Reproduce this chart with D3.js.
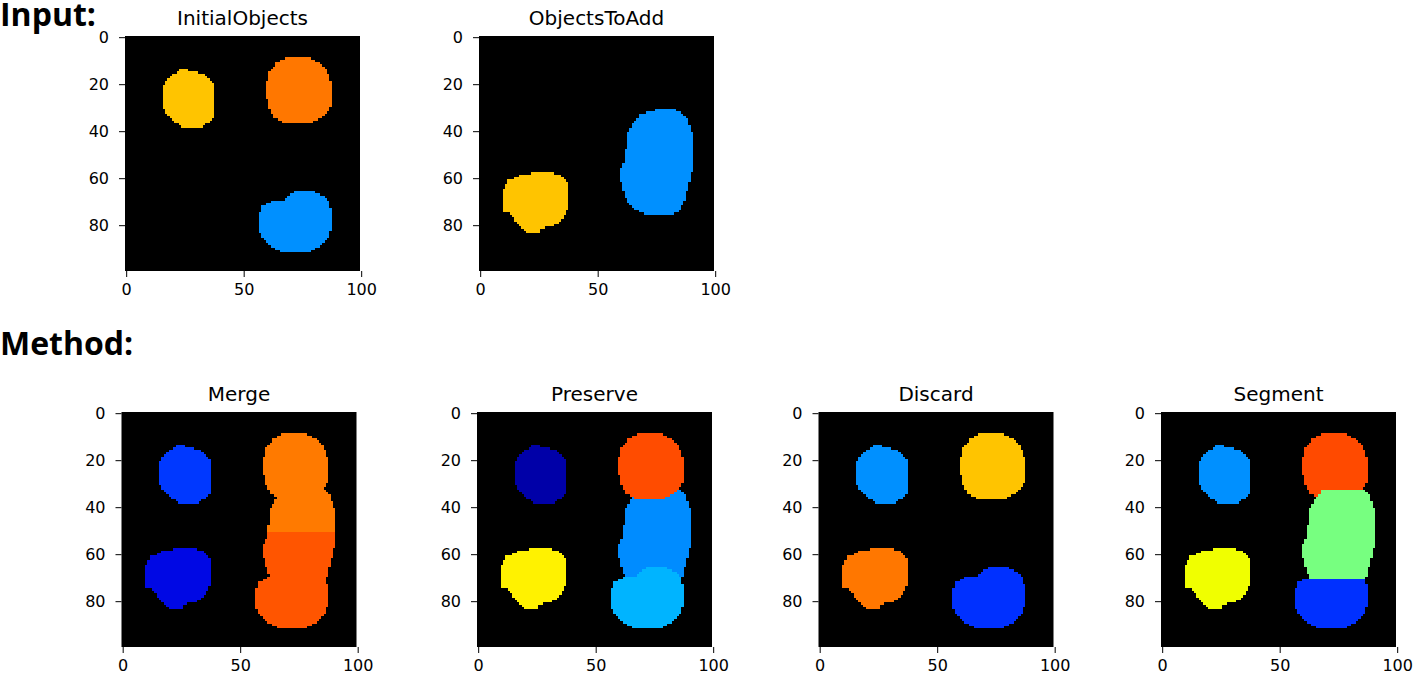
<!DOCTYPE html>
<html>
<head>
  <meta charset="utf-8">
  <title>Label images</title>
  <script src="https://cdn.jsdelivr.net/npm/d3@7"></script>
  <style>
    body { margin: 0; background: #fff; }
    svg { display: block; }
    .tick text { font-family: "DejaVu Sans", sans-serif; font-size: 16px; fill: #000; }
    .tick line { stroke: #000; }
    .title { font-family: "DejaVu Sans", sans-serif; font-size: 20px; }
    .section { font-family: "Open Sans", sans-serif; font-weight: 700; font-size: 32px; }
  </style>
</head>
<body>
<svg width="1413" height="676"></svg>
<script>

// tick labels of every panel (image is 100 x 100 px)
const xTicks = [0, 50, 100];
const yTicks = [0, 20, 40, 60, 80];

const sectionLabels = ["Input:", "Method:"];
const panelTitles = ["InitialObjects", "ObjectsToAdd", "Merge", "Preserve", "Discard", "Segment"];

// outlines of the objects, [column, row]
const blobA = [[23,13.5],[26,13.5],[28,14.5],[31,15],[34,16],[36.5,18.5],[38,21.5],[38,32],[36.5,35.5],
  [33,37.5],[31,38.6],[24.5,38.6],[21,36],[18.5,34],[17,32],[15.5,29],[15.2,22],[17,18.5],[20,16]];
const blobB = [[68,9],[79,9],[83,11.5],[86,15],[87.5,20],[87.5,29],[86,32],[82,35],[78,36.6],[67,36.6],
  [63,34],[61,30],[60,26],[59.5,20],[61,15],[64,11]];
const blobC = [[72,65.5],[80,65.5],[84,67.5],[86.5,70.5],[87.5,74],[87.5,80],[86.5,85],[84,88],[81,90],
  [77,91.8],[67,91.8],[62,89.5],[58.5,86],[56.2,82],[56.2,76],[58,72],[62,69.8],[67,69.5],[70,67]];
const blobD = [[23,57.3],[28.5,57.3],[34,58.5],[37.3,62],[37.3,73],[35.5,77],[34,79],[30,80.5],[26,81.5],
  [25,83.3],[20,83.3],[18,81],[15,78.5],[13,75],[10,74],[9.3,70],[9.5,65],[12,61],[16.5,59],[20,58.5]];
const blobE = [[72,31.5],[76,30.7],[83,30.7],[86,32],[88.5,35],[89.5,39],[90.7,43],[90.7,54],[89.5,60],
  [88,66],[86.5,71],[84.5,74],[82,75.5],[70,75.5],[66,73],[62.5,70],[61,65],[60.5,62],[59.4,60],[59.4,56],
  [61,54],[62,48],[62.5,42],[64.5,37],[68,33]];

// objects per panel, painted in order (later ones cover earlier ones)
const initialLayers = [
  { blob: blobA, color: "#ffc400" },
  { blob: blobB, color: "#ff7700" },
  { blob: blobC, color: "#0090ff" }
];
const addLayers = [
  { blob: blobD, color: "#ffc400" },
  { blob: blobE, color: "#0090ff" }
];
const mergeLayers = [
  { blob: blobA, color: "#0038ff" },
  { blob: blobD, color: "#0008e4" },
  { blob: blobB, color: "#ff7a00", rowMax: 50 },
  { blob: blobE, color: "#ff7a00", rowMax: 50 },
  { blob: blobC, color: "#ff7a00", rowMax: 50 },
  { blob: blobB, color: "#ff5500", rowMin: 51 },
  { blob: blobE, color: "#ff5500", rowMin: 51 },
  { blob: blobC, color: "#ff5500", rowMin: 51 }
];
const preserveLayers = [
  { blob: blobA, color: "#0000a8" },
  { blob: blobD, color: "#fff200" },
  { blob: blobE, color: "#008cff" },
  { blob: blobB, color: "#ff4c00" },
  { blob: blobC, color: "#00b4ff" }
];
const discardLayers = [
  { blob: blobA, color: "#0090ff" },
  { blob: blobB, color: "#ffc400" },
  { blob: blobD, color: "#ff7700" },
  { blob: blobC, color: "#0030ff" }
];
const segmentLayers = [
  { blob: blobA, color: "#0090ff" },
  { blob: blobD, color: "#f0ff00" },
  { blob: blobB, color: "#ff4a00" },
  { blob: blobE, color: "#77ff80", rowMin: 33 },
  { blob: blobC, color: "#0030ff", rowMin: 71 }
];

const panelLayers = [initialLayers, addLayers, mergeLayers, preserveLayers, discardLayers, segmentLayers];

const N = 100;
const SIZE = 235;
const panelPos = [
  { x: 125, y: 36 }, { x: 479, y: 36 },
  { x: 121.5, y: 412 }, { x: 477, y: 412 }, { x: 818.5, y: 412 }, { x: 1161, y: 412 }
];

const svg = d3.select("svg");

// turn the outlines into a label image and group it in row runs
let rasterize = (layers) => {
  const grid = Array.from({ length: N }, () => new Array(N).fill(null));
  layers.forEach(l => {
    for (let r = 0; r < N; r++) {
      if (l.rowMin != null && r < l.rowMin) continue;
      if (l.rowMax != null && r > l.rowMax) continue;
      for (let c = 0; c < N; c++) {
        if (d3.polygonContains(l.blob, [c, r])) grid[r][c] = l.color;
      }
    }
  });
  const runs = [];
  grid.forEach((row, r) => {
    let c = 0;
    while (c < N) {
      if (row[c] === null) { c++; continue; }
      let c1 = c;
      while (c1 + 1 < N && row[c1 + 1] === row[c]) c1++;
      runs.push({ r: r, c0: c, c1: c1, color: row[c] });
      c = c1 + 1;
    }
  });
  return runs;
};

sectionLabels.forEach((t, i) => {
  svg.append("text").attr("class", "section")
    .attr("x", 0).attr("y", i === 0 ? 26 : 355)
    .text(t);
});

panelTitles.forEach((title, i) => {
  const pos = panelPos[i];
  const x = d3.scaleLinear().domain([-0.5, N - 0.5]).range([0, SIZE]);
  const y = d3.scaleLinear().domain([-0.5, N - 0.5]).range([0, SIZE]);

  const g = svg.append("g").attr("transform", "translate(" + pos.x + "," + pos.y + ")");

  g.append("rect")
    .attr("width", SIZE).attr("height", SIZE)
    .style("fill", "#000");

  g.append("g").selectAll("rect")
    .data(rasterize(panelLayers[i]))
    .join("rect")
      .attr("x", d => x(d.c0 - 0.5))
      .attr("y", d => y(d.r - 0.5))
      .attr("width", d => x(d.c1 + 0.5) - x(d.c0 - 0.5))
      .attr("height", d => y(d.r + 0.5) - y(d.r - 0.5))
      .attr("shape-rendering", "crispEdges")
      .style("fill", d => d.color);

  g.append("g")
    .attr("transform", "translate(0," + SIZE + ")")
    .call(d3.axisBottom(x).tickValues(xTicks).tickSize(6).tickPadding(7))
    .call(a => a.select(".domain").remove());

  g.append("g")
    .call(d3.axisLeft(y).tickValues(yTicks).tickSize(6).tickPadding(10))
    .call(a => a.select(".domain").remove());

  g.append("text").attr("class", "title")
    .attr("x", SIZE / 2).attr("y", -11)
    .attr("text-anchor", "middle")
    .text(title);
});

</script>
</body>
</html>
